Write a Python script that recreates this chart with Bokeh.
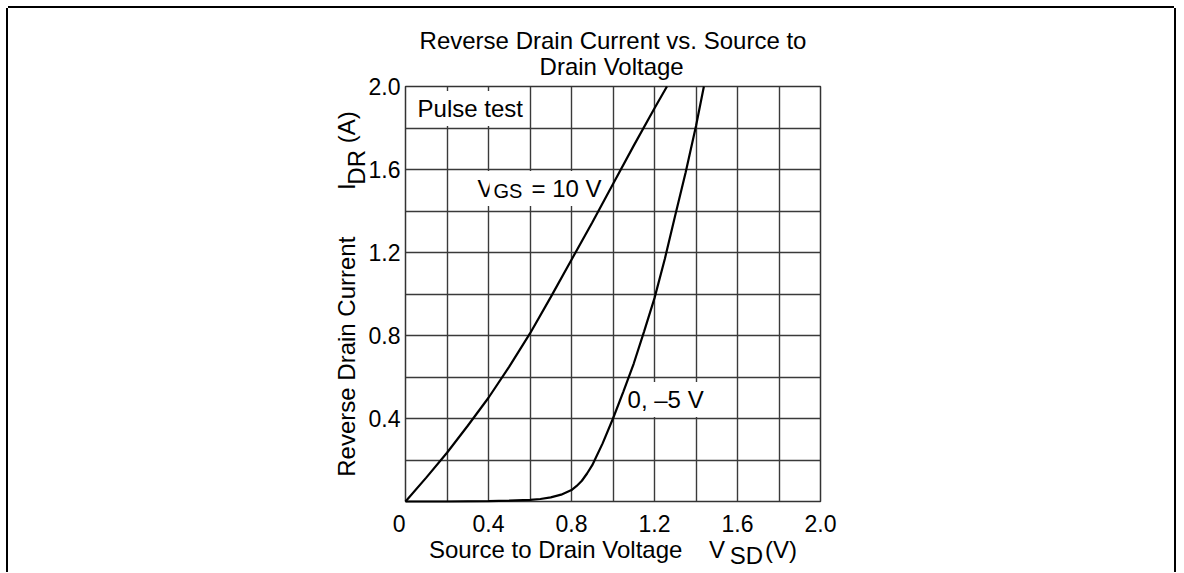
from bokeh.plotting import figure
from bokeh.models import Range1d, FixedTicker, Label
from bokeh.embed import file_html
from bokeh.resources import INLINE

# ---- data ----
vsd_vgs10 = [0.0, 0.1, 0.2, 0.3, 0.4, 0.5, 0.6, 0.7, 0.8, 0.9, 1.0, 1.1, 1.2, 1.26]
idr_vgs10 = [0.0, 0.115, 0.235, 0.365, 0.50, 0.65, 0.81, 0.985, 1.165, 1.345, 1.53, 1.715, 1.895, 2.0]

vsd_vgs0 = [0.0, 0.2, 0.4, 0.5, 0.6, 0.65, 0.7, 0.75, 0.8, 0.825, 0.85, 0.875, 0.9, 0.95,
            1.0, 1.05, 1.1, 1.15, 1.2, 1.25, 1.3, 1.35, 1.4, 1.438]
idr_vgs0 = [0.0, 0.0, 0.002, 0.004, 0.008, 0.012, 0.02, 0.033, 0.055, 0.075, 0.10, 0.135, 0.175, 0.28,
            0.40, 0.53, 0.665, 0.82, 0.98, 1.17, 1.38, 1.585, 1.81, 2.0]

x_ticks = [0.0, 0.4, 0.8, 1.2, 1.6, 2.0]
x_minor = [0.2, 0.6, 1.0, 1.4, 1.8]
y_ticks = [0.4, 0.8, 1.2, 1.6, 2.0]
y_minor = [0.2, 0.6, 1.0, 1.4, 1.8]

NB = "\u00a0"
title_text = ("Reverse Drain Current vs. Source to" + "\n"
              + NB * 18 + "Drain Voltage" + NB * 18)
# second line carries the subscript, shifted just below the symbol
x_label = ("Source to Drain Voltage" + NB * 4 + "V" + NB * 6 + "(V)" + "\n"
           + NB * 45 + "SD" + NB * 5)
y_label = ("Reverse Drain Current" + NB * 7 + "I" + NB * 6 + "(A)" + "\n"
           + NB * 44 + "DR" + NB * 6)

FONT = "Liberation Sans"
GRID = "#3a3a3a"

p = figure(frame_width=415, frame_height=415,
           x_range=Range1d(0, 2), y_range=Range1d(0, 2),
           output_backend="svg", toolbar_location=None,
           min_border_left=397, min_border_right=354,
           min_border_top=78, min_border_bottom=64)
p.styles = {"margin-left": "8px", "margin-top": "8px",
            "box-shadow": "-2px 0 0 0 black, 2px 0 0 0 black, 0 -2px 0 0 black"}

p.title.text = title_text
p.title.align = "center"
p.title.standoff = 13
p.title.text_font = FONT
p.title.text_font_size = "24px"
p.title.text_font_style = "normal"
p.title.text_color = "black"
p.title.text_line_height = 0.97

p.xaxis.ticker = FixedTicker(ticks=x_ticks, minor_ticks=x_minor)
p.yaxis.ticker = FixedTicker(ticks=y_ticks, minor_ticks=y_minor)
for ax in (p.xaxis, p.yaxis):
    ax.axis_line_color = None
    ax.major_tick_line_color = None
    ax.minor_tick_line_color = None
    ax.major_tick_out = 0
    ax.major_tick_in = 0
    ax.minor_tick_out = 0
    ax.major_label_text_font = FONT
    ax.major_label_text_font_size = "23px"
    ax.major_label_text_color = "black"
    ax.axis_label_text_font = FONT
    ax.axis_label_text_font_size = "24px"
    ax.axis_label_text_font_style = "normal"
    ax.axis_label_text_color = "black"
p.xaxis.major_label_standoff = 9
p.yaxis.major_label_standoff = 5
p.xaxis.major_label_overrides = {0: "0" + NB * 2, 0.4: "0.4", 0.8: "0.8", 1.2: "1.2", 1.6: "1.6", 2.0: "2.0"}
p.yaxis.major_label_overrides = {0.4: "0.4", 0.8: "0.8", 1.2: "1.2", 1.6: "1.6", 2.0: "2.0"}
p.xaxis.axis_label = x_label
p.xaxis.axis_label_standoff = -4
p.xaxis.axis_label_text_line_height = 0.25
p.yaxis.axis_label = y_label
p.yaxis.axis_label_standoff = -4
p.yaxis.axis_label_text_line_height = 0.35

for g in (p.xgrid, p.ygrid):
    g.grid_line_color = GRID
    g.grid_line_width = 1.4
    g.minor_grid_line_color = GRID
    g.minor_grid_line_width = 1.4

p.outline_line_color = "#333333"
p.outline_line_width = 1.5
p.background_fill_color = "white"
p.border_fill_color = "white"

r1 = p.line(vsd_vgs10, idr_vgs10, line_color="black", line_width=2.2)
r2 = p.line(vsd_vgs0, idr_vgs0, line_color="black", line_width=2.2)
r1.level = "overlay"
r2.level = "overlay"


def lab(x, y, text, size="24px"):
    p.add_layout(Label(x=x, y=y, text=text, text_font=FONT, text_font_size=size,
                       text_color="black", text_align="left", text_baseline="alphabetic",
                       background_fill_color="white", background_fill_alpha=1.0, padding=4))


# in-plot labels (white background hides the grid behind them)
lab(0.039, 1.894, "Pulse test")
lab(0.328, 1.508, "V")
lab(0.405, 1.494, "GS", size="20px")
lab(0.588, 1.508, "= 10 V")
lab(1.051, 0.491, "0, \u20135 V")

open("out.html", "w").write(file_html(p, INLINE))
